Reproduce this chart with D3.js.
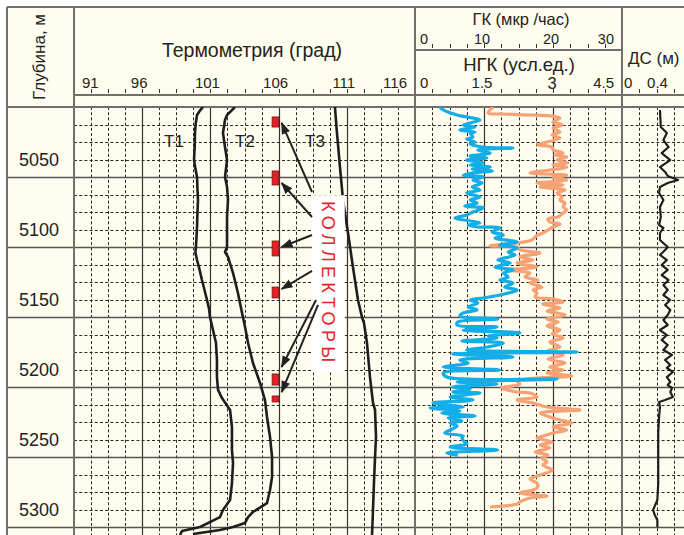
<!DOCTYPE html>
<html><head><meta charset="utf-8">
<script src="https://cdn.jsdelivr.net/npm/d3@7"></script>
<style>
body{margin:0;background:#fff}
svg{display:block}
text{font-family:"Liberation Sans",Arial,Helvetica,sans-serif;fill:#222}
</style>
</head><body>
<svg id="c" width="684" height="535"></svg>
<script>
// ---------------- data ----------------
const depthTicks = [5050, 5100, 5150, 5200, 5250, 5300];
const tempTicks = [91, 96, 101, 106, 111, 116];
const gkTicks = [0, 10, 20, 30];
const ngkTicks = [0, 1.5, 3, 4.5];
const dsTicks = [0, 0.4];

// [depth (m), temperature (grad)]
const t1 = [[5000,100.46],[5003,100.2],[5005.7,100.02],[5012,99.92],[5018.6,99.87],[5028,99.85],[5037.9,99.80],[5044,99.9],[5050,100.02],[5058,100.05],[5066.4,100.09],[5076,100.05],[5085.7,100.02],[5093,99.98],[5100,99.94],[5104,99.9],[5109.3,100.02],[5116,100.2],[5123.6,100.38],[5130,100.55],[5137.9,100.75],[5144,100.9],[5150,100.97],[5159.3,101.19],[5168.6,101.41],[5180.7,101.48],[5192.9,101.48],[5202.1,101.56],[5207.9,101.85],[5214.3,102.29],[5216.4,102.44],[5228.6,102.58],[5245,102.58],[5254.3,102.66],[5268.6,102.58],[5280.7,102.44],[5287.9,101.92],[5292.9,101.70],[5300,100.24],[5302.9,98.92],[5305.7,98.77]];
const t2 = [[5000,102.80],[5003.6,102.44],[5005.7,102.22],[5009.3,102.07],[5018.6,101.92],[5028.6,102.07],[5037.9,102.22],[5050,102.07],[5057.1,102.22],[5066.4,102.29],[5078.6,102.22],[5090,102.22],[5100,102.22],[5103.6,102.07],[5107.1,102.29],[5118.6,102.66],[5132.9,103.02],[5147.1,103.32],[5157.1,103.54],[5168.6,103.76],[5182.9,104.12],[5197.1,104.64],[5209.3,105.00],[5221.4,105.15],[5235.7,105.37],[5250,105.52],[5264.3,105.52],[5273.6,105.37],[5282.9,105.15],[5289.3,104.12],[5292.9,103.76],[5297.1,103.54],[5300,102.66],[5302.1,101.70],[5305,99.72]];
const t3 = [[5000,110.13],[5018.6,110.28],[5042.9,110.50],[5066.4,110.72],[5090,111.09],[5114.3,111.45],[5137.9,111.82],[5150,112.11],[5154.3,112.26],[5168.6,112.48],[5192.9,112.70],[5211.4,112.92],[5216.4,113.07],[5235.7,113.14],[5250,113.07],[5268.6,112.99],[5287.9,112.92],[5305.7,112.85]];

// [depth, GK (mkr/h)]
const gk = [[5000,3.6],[5002.1,4.1],[5005.7,6.1],[5007.9,8.4],[5009.3,9.4],[5011.4,8.0],[5012.9,7.0],[5014.3,8.7],[5016.4,6.5],[5017.9,8.7],[5018.6,8.0],[5021.4,8.4],[5022.9,7.5],[5025,8.7],[5026.4,8.0],[5028.6,9.7],[5029.3,14.2],[5030.7,9.1],[5032.9,10.9],[5035,8.0],[5036.4,10.4],[5037.9,7.5],[5040,9.9],[5041.4,8.0],[5042.9,10.9],[5044.3,8.3],[5045.7,11.2],[5047.1,8.4],[5048.6,7.0],[5050,9.9],[5052.1,8.4],[5054.3,9.7],[5057.1,8.3],[5059.3,9.4],[5061.4,7.5],[5064.3,9.4],[5066.4,8.0],[5068.6,9.0],[5070.7,7.2],[5072.1,9.9],[5075,8.4],[5077.1,7.5],[5079.3,5.8],[5081.4,8.0],[5082.9,9.4],[5084.3,7.7],[5085.7,9.1],[5086.4,12.3],[5089.3,11.2],[5091.4,12.8],[5093.6,11.6],[5096.4,14.8],[5098.6,12.3],[5100.7,14.8],[5103.6,13.5],[5105.7,14.5],[5109.3,12.0],[5111.4,13.8],[5114.3,11.6],[5116.4,14.2],[5118.6,12.8],[5121.4,13.5],[5123.6,12.3],[5125.7,14.2],[5128.6,13.0],[5130.7,14.8],[5134.3,12.3],[5136.4,9.9],[5137.9,8.0],[5140,9.1],[5142.9,7.7],[5145,9.0],[5147.1,7.0],[5149.3,6.5],[5151.4,12.0],[5153.6,6.2],[5155.7,6.1],[5157.1,11.9],[5159.3,7.0],[5161.4,15.2],[5163.6,10.6],[5165,11.9],[5167.1,6.8],[5168.6,12.8],[5171.4,10.6],[5173.6,7.5],[5175,23.5],[5176.4,5.5],[5178.6,14.2],[5180.7,6.5],[5182.9,7.7],[5185.7,4.1],[5187.9,12.3],[5190,4.1],[5192.9,4.6],[5194.3,20.6],[5196.4,6.1],[5197.9,11.9],[5200,5.5],[5201.4,8.0],[5203.6,5.5],[5204.3,9.4],[5207.1,5.1],[5209.3,8.4],[5211.4,2.6],[5214.3,7.0],[5215,2.2],[5217.1,6.5],[5218.6,3.9],[5220.7,8.7],[5222.1,4.8],[5224.3,6.8],[5225.7,5.1],[5227.9,6.1],[5230,5.4],[5232.9,4.3],[5235,7.0],[5236.4,6.8],[5239.3,7.2],[5240.7,7.5],[5242.9,5.1],[5245,12.0],[5247.1,4.6],[5248.6,6.2]];

// [depth, NGK (usl. ed.)]
const ngk = [[5000,1.70],[5004.3,1.59],[5005,1.91],[5005.7,2.50],[5006.4,2.93],[5007.9,3.15],[5010.7,3.00],[5012.9,3.20],[5015,3.00],[5017.9,3.15],[5020,2.98],[5022.1,3.15],[5025,2.87],[5027.1,2.67],[5028.6,2.98],[5030.7,3.00],[5032.9,3.22],[5034.3,3.04],[5035.7,3.30],[5037.9,3.09],[5040,3.33],[5041.4,3.00],[5042.9,3.30],[5045,2.93],[5047.1,2.50],[5048.6,3.30],[5050,3.00],[5052.1,3.30],[5054.3,2.65],[5055.7,3.22],[5057.1,2.72],[5059.3,3.26],[5061.4,3.09],[5064.3,3.20],[5066.4,3.15],[5068.6,3.26],[5071.4,3.22],[5073.6,3.30],[5075.7,3.22],[5078.6,3.11],[5080,2.89],[5082.1,2.93],[5083.6,3.15],[5085.7,3.00],[5087.9,2.89],[5090,2.78],[5091.4,2.67],[5092.9,2.61],[5095,2.54],[5097.1,2.22],[5097.9,2.00],[5099.3,1.63],[5100,2.22],[5102.1,2.28],[5104.3,2.72],[5107.1,2.28],[5109.3,2.57],[5111.4,2.22],[5114.3,2.65],[5116.4,2.00],[5118.6,2.50],[5121.4,2.39],[5123.6,2.67],[5125.7,2.50],[5128.6,2.76],[5130.7,2.57],[5132.9,2.65],[5135.7,2.61],[5137.1,3.00],[5139.3,3.22],[5140.7,2.78],[5143.6,3.15],[5145.7,2.87],[5148.6,3.26],[5151.4,2.87],[5153.6,3.11],[5156.4,2.87],[5159.3,3.15],[5162.1,2.98],[5165,3.22],[5167.9,2.93],[5171.4,3.15],[5174.3,2.87],[5177.1,3.22],[5180,2.89],[5182.9,3.26],[5185.7,2.93],[5187.9,3.22],[5190,2.87],[5192.1,3.41],[5193.6,2.65],[5195.7,2.22],[5197.9,2.28],[5200.7,1.89],[5203.6,2.22],[5204.3,2.50],[5207.1,2.65],[5209.3,2.22],[5211.4,2.57],[5214.3,2.87],[5216.4,3.59],[5218.6,2.72],[5221.4,2.93],[5223.6,3.15],[5225.7,3.41],[5228.6,3.00],[5230.7,3.30],[5232.9,3.00],[5235.7,2.72],[5236.4,2.65],[5239.3,2.98],[5241.4,2.72],[5243.6,2.93],[5246.4,2.61],[5248.6,2.89],[5250.7,2.76],[5253.6,2.87],[5255.7,2.78],[5259.3,2.98],[5262.9,2.72],[5265.7,2.50],[5268.6,2.65],[5271.4,2.67],[5273.6,2.57],[5275.7,2.28],[5277.9,2.87],[5279.3,2.50],[5282.1,2.28],[5283.6,2.22],[5285.7,1.63]];

// [depth, DS (m)]
const ds = [[5002.1,0.44],[5014.3,0.45],[5018.6,0.52],[5023.6,0.48],[5028.6,0.54],[5032.9,0.46],[5037.9,0.56],[5042.9,0.44],[5046.4,0.50],[5049.3,0.53],[5052.1,0.65],[5054.3,0.53],[5057.1,0.44],[5061.4,0.43],[5066.4,0.48],[5071.4,0.44],[5078.6,0.45],[5084.3,0.43],[5086.4,0.48],[5090,0.44],[5095,0.44],[5100,0.53],[5102.1,0.50],[5105.7,0.44],[5109.3,0.52],[5112.9,0.46],[5116.4,0.53],[5120,0.46],[5123.6,0.54],[5127.1,0.48],[5130.7,0.53],[5134.3,0.48],[5137.9,0.56],[5141.4,0.50],[5145,0.56],[5148.6,0.53],[5152.1,0.48],[5155.7,0.53],[5159.3,0.44],[5162.9,0.52],[5166.4,0.46],[5170,0.53],[5173.6,0.48],[5177.1,0.58],[5180.7,0.50],[5184.3,0.56],[5186.4,0.52],[5189.3,0.59],[5192.9,0.52],[5196.4,0.56],[5198.6,0.53],[5200.7,0.58],[5203.6,0.56],[5207.1,0.59],[5209.3,0.50],[5210.7,0.43],[5214.3,0.44],[5221.4,0.43],[5232.9,0.42],[5245,0.42],[5257.1,0.42],[5268.6,0.42],[5280.7,0.41],[5287.9,0.36],[5291.4,0.38],[5295,0.41],[5300,0.41]];

// collector intervals [top, bottom] depth
const collectors = [[5007.1,5014.3],[5045.7,5055.7],[5095.7,5106.4],[5128.6,5136.4],[5190.7,5198.6],[5206.4,5210.7]];
// arrows: [start depth at label, tip depth at collector]
const arrows = [[5060.7,5011.4],[5078.6,5054.3],[5091.4,5100],[5117.1,5130],[5137.9,5185.7],[5141.4,5203.6]];
const curveLabels = [["Т1",98.33],["Т2",103.54],["Т3",108.67]];

// ---------------- layout ----------------
const W = 684, H = 535;
const svg = d3.select("#c");
const y = d3.scaleLinear().domain([5000, 5300]).range([107, 527]);
const xT = d3.scaleLinear().domain([91, 116]).range([74, 415]);
const xGK = d3.scaleLinear().domain([0, 30]).range([415, 622]);
const xNGK = d3.scaleLinear().domain([0, 4.5]).range([415, 622]);
const xDS = d3.scaleLinear().domain([0, 0.8]).range([622, 691]);
const yBot = y.invert(H);

const BG = "#fffdee", GRID = "#2a2a2a", FRAME = "#707070";

svg.append("rect").attr("width", W).attr("height", H).attr("fill", "#fff");
svg.append("rect").attr("x", 7).attr("y", 7).attr("width", W).attr("height", H).attr("fill", BG);

const grid = svg.append("g");
function vgrid(scale, step, n, majorEvery) {
  const d0 = scale.domain()[0];
  for (let i = 1; i < n; i++) {
    const v = d0 + step * i;
    const xx = Math.round(scale(v)) + 0.5;
    const major = i % majorEvery === 0;
    grid.append("line").attr("x1", xx).attr("x2", xx).attr("y1", y(5000)).attr("y2", H)
      .attr("stroke", major ? "#333" : GRID).attr("stroke-width", major ? 1.2 : 1)
      .attr("stroke-dasharray", major ? null : "3,2.2");
  }
}
vgrid(xT, 1.25, 20, 4);
vgrid(xGK, 2.5, 12, 4);
vgrid(xDS, 0.2, 4, 4);

for (let d = 5000 + 12.5; d < yBot; d += 12.5) {
  const yy = Math.round(y(d)) + 0.5;
  if (Math.abs(d % 50) < 1e-6) {
    grid.append("line").attr("x1", 7).attr("x2", W).attr("y1", yy).attr("y2", yy)
      .attr("stroke", "#555").attr("stroke-width", 1.6);
  } else {
    grid.append("line").attr("x1", 74).attr("x2", W).attr("y1", yy).attr("y2", yy)
      .attr("stroke", GRID).attr("stroke-width", 1).attr("stroke-dasharray", "3,2.2");
  }
}

const frame = svg.append("g").attr("stroke", FRAME).attr("stroke-width", 2).attr("fill", "none");
frame.append("line").attr("x1", 7).attr("x2", W).attr("y1", 7).attr("y2", 7);
frame.append("line").attr("x1", 7).attr("x2", 7).attr("y1", 7).attr("y2", H);
[74, 415, 622].forEach(xx => frame.append("line").attr("x1", xx).attr("x2", xx).attr("y1", 7).attr("y2", H));
frame.append("line").attr("x1", 74).attr("x2", W).attr("y1", 95).attr("y2", 95);
frame.append("line").attr("x1", 415).attr("x2", 622).attr("y1", 50).attr("y2", 50);
frame.append("line").attr("x1", 7).attr("x2", W).attr("y1", y(5000)).attr("y2", y(5000));

function hticks(scale, step, n, yb) {
  const d0 = scale.domain()[0];
  for (let i = 1; i < n; i++) {
    const xx = Math.round(scale(d0 + step * i)) + 0.5;
    svg.append("line").attr("x1", xx).attr("x2", xx).attr("y1", yb - 4).attr("y2", yb)
      .attr("stroke", "#333").attr("stroke-width", 1);
  }
}
hticks(xT, 1.25, 20, 93);
hticks(xGK, 2.5, 12, 48);
hticks(xNGK, 0.375, 12, 93);
hticks(xDS, 0.2, 4, 93);

const txt = (x, yy, s, size, anchor) => svg.append("text").attr("x", x).attr("y", yy)
  .attr("font-size", size).attr("text-anchor", anchor || "middle").text(s);
svg.append("text").attr("transform", "translate(45,57) rotate(-90)")
  .attr("font-size", 17).attr("text-anchor", "middle").text("Глубина, м");
txt(252, 57, "Термометрия (град)", 19.5);
txt(521, 25, "ГК (мкр /час)", 16.5);
txt(519, 71, "НГК (усл.ед.)", 18.5);
txt(628, 64, "ДС (м)", 17, "start");

tempTicks.forEach((t, i) => {
  const n = tempTicks.length;
  if (i === 0) txt(xT(t) + 8, 88, t, 15, "start");
  else if (i === n - 1) txt(xT(t) - 8, 88, t, 15, "end");
  else txt(xT(t) - 3, 88, t, 15);
});
gkTicks.forEach((t, i) => {
  const n = gkTicks.length;
  if (i === 0) txt(xGK(t) + 5, 44, t, 14.5, "start");
  else if (i === n - 1) txt(xGK(t) - 8, 44, t, 14.5, "end");
  else txt(xGK(t) - 2, 44, t, 14.5);
});
ngkTicks.forEach((t, i) => {
  const n = ngkTicks.length;
  if (i === 0) txt(xNGK(t) + 5, 88, t, 15, "start");
  else if (i === n - 1) txt(xNGK(t) - 8, 88, t, 15, "end");
  else if (t === 3) txt(xNGK(t) - 1, 89, t, 16.5);
  else txt(xNGK(t) - 2, 88, t, 15);
});
dsTicks.forEach((t, i) => {
  if (i === 0) txt(xDS(t) + 2, 88, t, 15, "start");
  else txt(xDS(t) + 1, 88, t, 15);
});

depthTicks.forEach(d => txt(39, y(d) - 11, d, 18));

svg.append("defs").html(
  '<clipPath id="cT"><rect x="75" y="107" width="339" height="430"/></clipPath>' +
  '<clipPath id="cG"><rect x="416" y="107" width="205" height="430"/></clipPath>' +
  '<clipPath id="cD"><rect x="623" y="107" width="70" height="430"/></clipPath>' +
  '<marker id="ah" markerUnits="userSpaceOnUse" markerWidth="12" markerHeight="10" refX="11" refY="4.5" orient="auto">' +
  '<path d="M0,0 L12,4.5 L0,9 z" fill="#222"/></marker>');

const tLine = d3.line().x(d => xT(d[1])).y(d => y(d[0]));
const gT = svg.append("g").attr("clip-path", "url(#cT)");
[t1, t2, t3].forEach(s => gT.append("path").attr("d", tLine(s)).attr("fill", "none")
  .attr("stroke", "#1e1e1e").attr("stroke-width", 2.6).attr("stroke-linejoin", "round"));

const smooth = d3.curveCatmullRom.alpha(0.5);
const gG = svg.append("g").attr("clip-path", "url(#cG)");
gG.append("path").attr("d", d3.line().curve(smooth).x(d => xNGK(d[1])).y(d => y(d[0]))(ngk))
  .attr("fill", "none").attr("stroke", "#f6a274").attr("stroke-width", 3.2).attr("stroke-linejoin", "round");
gG.append("path").attr("d", d3.line().curve(smooth).x(d => xGK(d[1])).y(d => y(d[0]))(gk))
  .attr("fill", "none").attr("stroke", "#13aee8").attr("stroke-width", 3.2).attr("stroke-linejoin", "round");

const gD = svg.append("g").attr("clip-path", "url(#cD)");
gD.append("path").attr("d", d3.line().x(d => xDS(d[1])).y(d => y(d[0]))(ds))
  .attr("fill", "none").attr("stroke", "#1e1e1e").attr("stroke-width", 2.2).attr("stroke-linejoin", "round");

curveLabels.forEach(([s, t]) => txt(xT(t), y(5028.6), s, 17));

collectors.forEach(([a, b]) => {
  svg.append("rect").attr("x", xT(106) - 6.5).attr("y", y(a)).attr("width", 6.5).attr("height", y(b) - y(a))
    .attr("fill", "#e61e26").attr("stroke", "#7a1414").attr("stroke-width", 0.8);
});

const boxL = xT(108.45), boxR = xT(110.85);
svg.append("rect").attr("x", boxL).attr("y", y(5063)).attr("width", boxR - boxL).attr("height", y(5189.5) - y(5063))
  .attr("fill", "#fff");
svg.append("text").attr("transform", `translate(${boxL + 10},${(y(5063) + y(5189.5)) / 2}) rotate(90)`)
  .attr("font-size", 18).attr("text-anchor", "middle").attr("letter-spacing", "4.3px")
  .style("fill", "#e8202a").text("КОЛЛЕКТОРЫ");

arrows.forEach(([a, b], i) => {
  const x0 = boxL + (i >= 4 ? 4 + (i - 4) * 2 : 0);
  svg.append("line").attr("x1", x0).attr("y1", y(a)).attr("x2", xT(106) + 3).attr("y2", y(b))
    .attr("stroke", "#222").attr("stroke-width", 2).attr("marker-end", "url(#ah)");
});
</script>
</body></html>
